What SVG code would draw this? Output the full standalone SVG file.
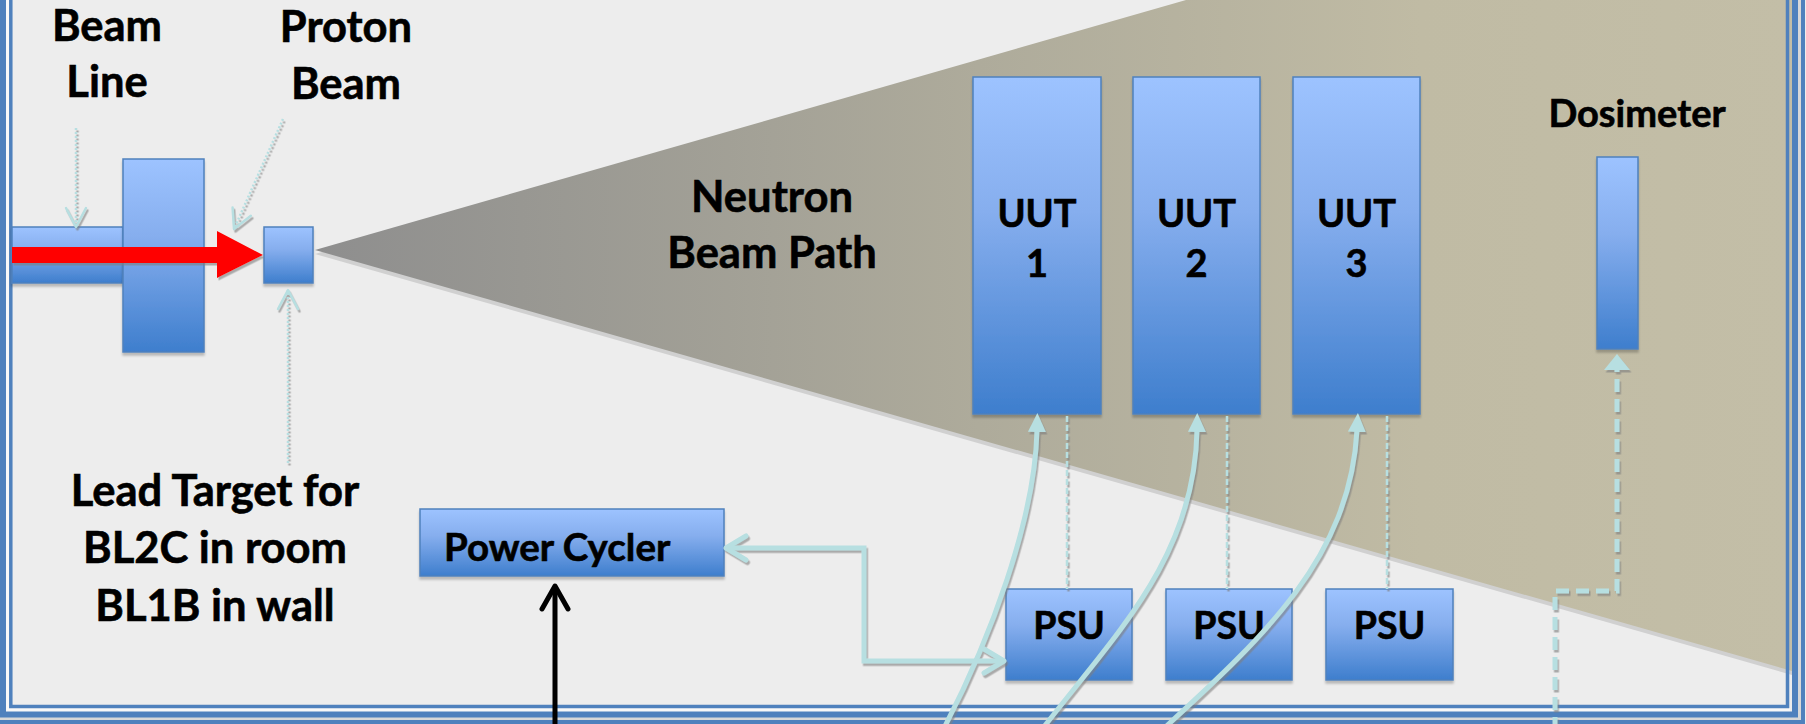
<svg xmlns="http://www.w3.org/2000/svg" width="1806" height="724" viewBox="0 0 1806 724">
<style>
.box{stroke:#4f81bd;stroke-width:1.5;fill:url(#boxg)}
.lbl{font-family:"Lato","Liberation Sans",sans-serif;font-weight:700;fill:#000;stroke:#000;stroke-width:0.6}
.big{font-size:43.5px}
.mid{font-size:38px}
.psu{font-size:37.5px}
.cy{fill:none;stroke:#b7dfe1}
.frame{fill:none;stroke:#4f81bd}
</style>
<defs>
<linearGradient id="boxg" x1="0" y1="0" x2="0" y2="1">
<stop offset="0" stop-color="#9dc3ff"/>
<stop offset="0.4" stop-color="#86aeee"/>
<stop offset="1" stop-color="#3e7ecd"/>
</linearGradient>
<linearGradient id="triG" gradientUnits="userSpaceOnUse" x1="315" y1="0" x2="1790" y2="0">
<stop offset="0" stop-color="#8e8e8e"/>
<stop offset="0.45" stop-color="#aeab9b"/>
<stop offset="0.75" stop-color="#c0bba4"/>
<stop offset="1" stop-color="#c3bea7"/>
</linearGradient>
<filter id="sh" x="-20%" y="-20%" width="140%" height="140%">
<feDropShadow dx="0" dy="3" stdDeviation="1" flood-color="#000" flood-opacity="0.22"/>
</filter>
<filter id="csh" x="-10%" y="-10%" width="120%" height="120%">
<feDropShadow dx="1.5" dy="2.5" stdDeviation="0.6" flood-color="#7f7f7f" flood-opacity="0.6"/>
</filter>
<marker id="mFill" viewBox="0 0 20 20" markerUnits="userSpaceOnUse" markerWidth="20" markerHeight="20" refX="2" refY="10" orient="auto">
<path d="M0,1 L19,10 L0,19 z" fill="#b7dfe1"/>
</marker>
<marker id="mDos" viewBox="0 0 18 28" markerUnits="userSpaceOnUse" markerWidth="18" markerHeight="28" refX="4" refY="14" orient="auto">
<path d="M0,1 L16,14 L0,27 z" fill="#b7dfe1"/>
</marker>
<marker id="mV" viewBox="0 0 26 30" markerUnits="userSpaceOnUse" markerWidth="26" markerHeight="30" refX="23" refY="15" orient="auto-start-reverse">
<path d="M3,3 L23,15 L3,27" fill="none" stroke="#b7dfe1" stroke-width="5" stroke-linecap="round" stroke-linejoin="round"/>
</marker>
<marker id="mBlk" viewBox="0 0 30 32" markerUnits="userSpaceOnUse" markerWidth="30" markerHeight="32" refX="26" refY="16" orient="auto">
<path d="M3,3 L26,16 L3,29" fill="none" stroke="#000" stroke-width="5" stroke-linecap="round" stroke-linejoin="round"/>
</marker>
<marker id="mDot" viewBox="0 0 24 24" markerUnits="userSpaceOnUse" markerWidth="24" markerHeight="24" refX="21" refY="12" orient="auto">
<path d="M2,2 L21,12 L2,22" fill="none" stroke="#b7dfe1" stroke-width="2.5" stroke-linecap="round" stroke-linejoin="round"/>
</marker>
</defs>

<rect x="0" y="0" width="1806" height="724" fill="#ededed"/>

<g id="neutron-beam">
<polygon points="315,254 1186,4 1792,4 1792,675" fill="#d0d0d0"/>
<polygon points="315,250 1186,0 1792,0 1792,671" fill="url(#triG)"/>
</g>

<g id="frame">
<path d="M7.5 -10 V710 H1790" fill="none" stroke="#f8f8f8" stroke-width="4"/>
<path d="M-2 -10 V718.5 H1799.5 V-10" fill="none" stroke="#d8d8d8" stroke-width="3"/>
<path class="frame" d="M10.8 -10 V706.5 H1787.5 V-10" stroke-width="3.5"/>
<path class="frame" d="M3 -10 V714.5 H1795 V-10" stroke-width="6"/>
<path class="frame" d="M-6 -10 V722 H1803 V-10" stroke-width="4"/>
</g>

<g id="beam-line">
<rect class="box" x="12" y="227" width="111" height="56" filter="url(#sh)"/>
<rect class="box" x="123" y="159" width="81" height="193" filter="url(#sh)"/>
<text class="lbl big" x="107" y="41" text-anchor="middle">Beam</text>
<text class="lbl big" x="107" y="97" text-anchor="middle">Line</text>
</g>

<g id="proton-beam-label">
<text class="lbl big" x="346" y="42" text-anchor="middle">Proton</text>
<text class="lbl big" x="346" y="99" text-anchor="middle">Beam</text>
</g>

<g id="lead-target">
<rect class="box" x="264" y="227" width="49" height="56" filter="url(#sh)"/>
<text class="lbl big" x="215" y="506" text-anchor="middle">Lead Target for</text>
<text class="lbl big" x="215" y="563" text-anchor="middle">BL2C in room</text>
<text class="lbl big" x="215" y="621" text-anchor="middle">BL1B in wall</text>
</g>

<g id="neutron-label">
<text class="lbl big" x="772" y="212" text-anchor="middle">Neutron</text>
<text class="lbl big" x="772" y="268" text-anchor="middle">Beam Path</text>
</g>

<g id="uut1">
<rect class="box" x="973" y="77" width="128" height="337" filter="url(#sh)"/>
<text class="lbl mid" x="1037" y="227" text-anchor="middle">UUT</text>
<text class="lbl mid" x="1037" y="277" text-anchor="middle">1</text>
</g>
<g id="uut2">
<rect class="box" x="1133" y="77" width="127" height="337" filter="url(#sh)"/>
<text class="lbl mid" x="1196.5" y="227" text-anchor="middle">UUT</text>
<text class="lbl mid" x="1196.5" y="277" text-anchor="middle">2</text>
</g>
<g id="uut3">
<rect class="box" x="1293" y="77" width="127" height="337" filter="url(#sh)"/>
<text class="lbl mid" x="1356.5" y="227" text-anchor="middle">UUT</text>
<text class="lbl mid" x="1356.5" y="277" text-anchor="middle">3</text>
</g>

<g id="dosimeter">
<rect class="box" x="1597" y="157" width="41" height="192" filter="url(#sh)"/>
<text class="lbl mid" x="1637" y="127" text-anchor="middle">Dosimeter</text>
</g>

<g id="psu1">
<rect class="box" x="1006" y="589" width="126" height="91" filter="url(#sh)"/>
<text class="lbl psu" x="1069" y="639" text-anchor="middle">PSU</text>
</g>
<g id="psu2">
<rect class="box" x="1166" y="589" width="126" height="91" filter="url(#sh)"/>
<text class="lbl psu" x="1229" y="639" text-anchor="middle">PSU</text>
</g>
<g id="psu3">
<rect class="box" x="1326" y="589" width="127" height="91" filter="url(#sh)"/>
<text class="lbl psu" x="1389.5" y="639" text-anchor="middle">PSU</text>
</g>

<g id="power-cycler">
<rect class="box" x="420" y="509" width="304" height="67" filter="url(#sh)"/>
<text class="lbl" font-size="38.5" x="444" y="561">Power Cycler</text>
</g>

<g id="connectors">
<polygon points="12,247 217,247 217,231 263,255 217,278 217,263 12,263" fill="#ff0000" filter="url(#csh)"/>
<g filter="url(#csh)">
<path class="cy" d="M76 128 V227" stroke-width="2.5" stroke-dasharray="2 2" marker-end="url(#mDot)"/>
<path class="cy" d="M283 119 L234 229" stroke-width="2.5" stroke-dasharray="2 2" marker-end="url(#mDot)"/>
<path class="cy" d="M288 463 V290" stroke-width="2.5" stroke-dasharray="2 2" marker-end="url(#mDot)"/>
<path class="cy" d="M1067 416 V589" stroke-width="2.5" stroke-dasharray="6 3"/>
<path class="cy" d="M1227 416 V589" stroke-width="2.5" stroke-dasharray="6 3"/>
<path class="cy" d="M1387 416 V589" stroke-width="2.5" stroke-dasharray="6 3"/>
<path class="cy" d="M726 548 H864 V661 H1004" stroke-width="5" marker-start="url(#mV)" marker-end="url(#mV)"/>
<path class="cy" d="M942 732 C990 640 1035 520 1037 430" stroke-width="5" marker-end="url(#mFill)"/>
<path class="cy" d="M1040 732 C1110 640 1195 560 1197 430" stroke-width="5" marker-end="url(#mFill)"/>
<path class="cy" d="M1160 732 C1260 640 1350 560 1357 430" stroke-width="5" marker-end="url(#mFill)"/>
<path class="cy" d="M1555 730 V591 H1617 V366" stroke-width="5" stroke-dasharray="13 7" marker-end="url(#mDos)"/>
</g>
<path d="M555 730 V586" fill="none" stroke="#000" stroke-width="5" marker-end="url(#mBlk)"/>
</g>
</svg>
